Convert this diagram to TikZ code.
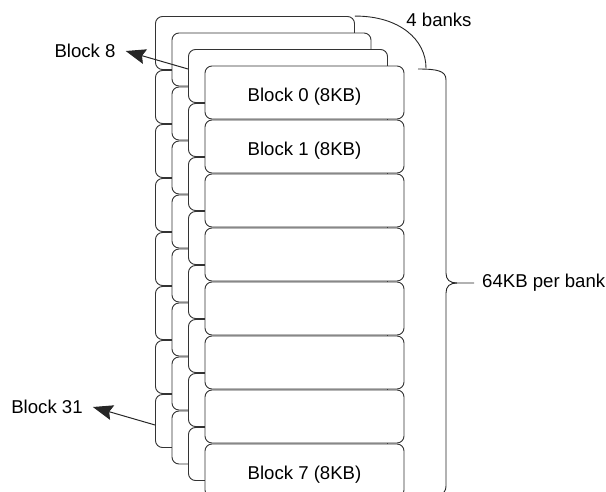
\documentclass[tikz,border=0pt]{standalone}
\usepackage{fontspec}
\setmainfont{Liberation Sans}
\usetikzlibrary{arrows.meta}

\tikzset{
	blk/.style={draw=black!80, fill=white, rounded corners=7pt, minimum width=199pt,
		minimum height=53pt, inner sep=0pt, line width=0.9pt, font=\fontsize{18.6}{22}\selectfont,
		text height=17pt, text depth=0pt},
	lbl/.style={inner sep=0pt, font=\fontsize{18.6}{22}\selectfont},
	ptr/.style={draw=black!85, line width=1pt, -{Stealth[length=20pt,width=15pt,inset=3pt]}},
	edge/.style={draw=black!85, line width=0.9pt},
}

\begin{document}
\begin{tikzpicture}[x=1pt,y=-1pt]% {{{ banks
	\useasboundingbox (0,0) rectangle (606,491);
	\clip (0,0) rectangle (606,491);

	% back banks, drawn from the rear forward
	\foreach \b in {3,2,1} {
		\foreach \k in {0,...,7} {
			\node[blk] (blk-\b-\k) at ({304.5-16.5*\b}, {92.5+54*\k-16.5*\b}) {};
		}
	}
	% front bank
	\foreach \k/\t in {0/Block 0 (8KB), 1/Block 1 (8KB), 2/, 3/, 4/, 5/, 6/, 7/Block 7 (8KB)} {
		\node[blk] (blk-0-\k) at (304.5, {92.5+54*\k}) {\t};
	}

	\node[lbl] (lbl-b8) at (85,51) {Block 8};
	\node[lbl] (lbl-b31) at (47,407) {Block 31};
	\node[lbl] (lbl-banks) at (439,20) {4 banks};
	\node[lbl, anchor=west] (lbl-size) at (482,283) {64KB per bank};

	\draw[ptr] ([yshift=7pt]blk-1-0.west) -- ([xshift=10pt]lbl-b8.east);
	\draw[ptr] ([yshift=-4pt]blk-3-7.west) -- ([xshift=10pt]lbl-b31.east);

	% brace over the height of a bank
	\coordinate (brace-top) at (418,69);
	\coordinate (brace-tip) at (474,283);
	\draw[edge] (blk-3-0.north east) .. controls (400,16) and (426,40) .. (426,68);
	\draw[edge] (brace-top) .. controls (438,69) and (446,71) .. (446,80) -- (446,273)
		.. controls (446,280) and (450,283) .. (457,283) -- (brace-tip);
	\draw[edge] (457,283) .. controls (450,283) and (446,286) .. (446,293) -- (446,486)
		.. controls (446,495) and (438,497) .. (418,497);
\end{tikzpicture}% }}}
\end{document}
